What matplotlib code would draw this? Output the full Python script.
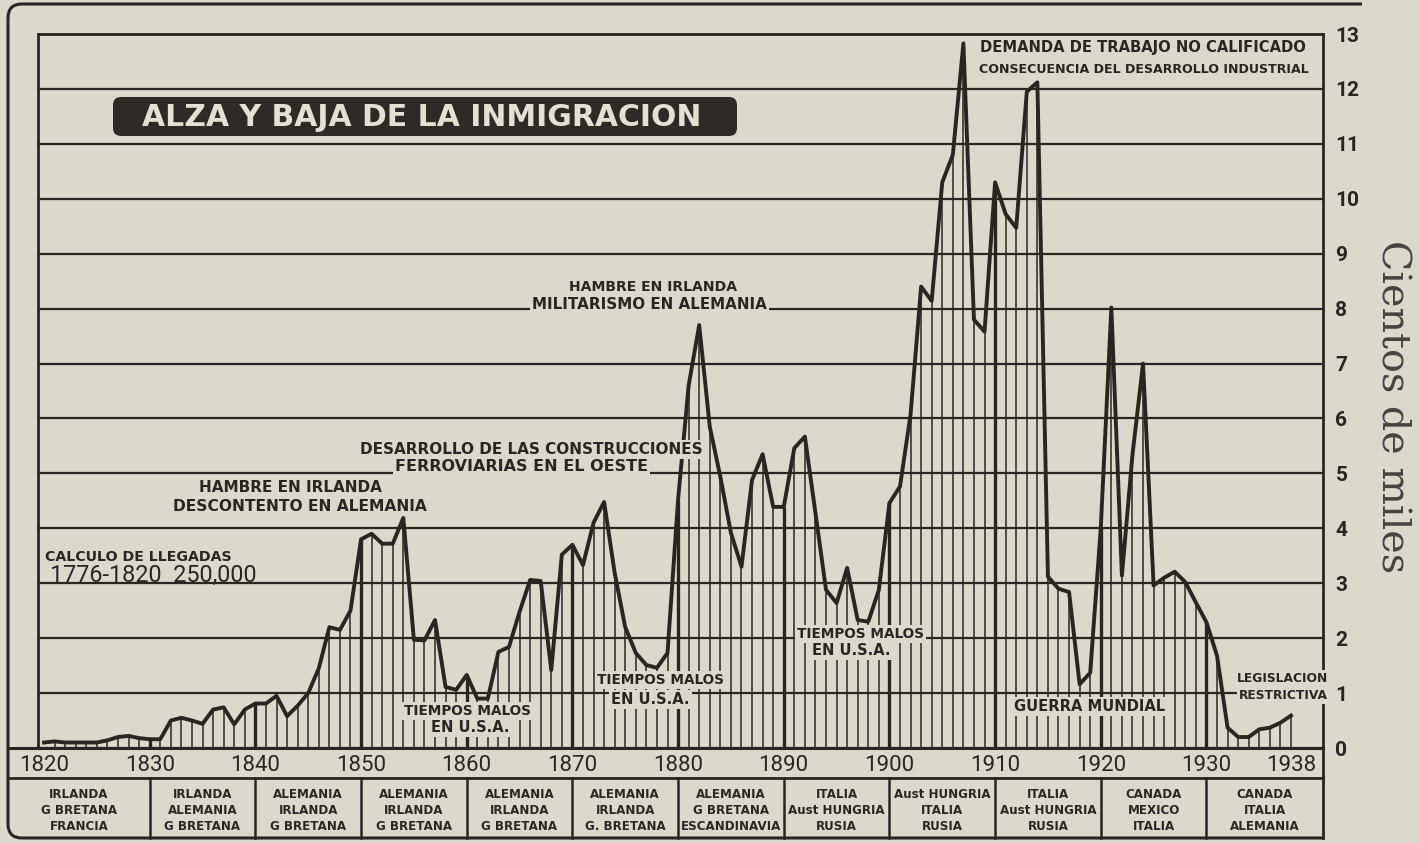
import matplotlib.pyplot as plt
import matplotlib.transforms as mtransforms
from matplotlib.patches import FancyBboxPatch, PathPatch
from matplotlib.path import Path

# inmigracion anual a EE.UU., en cientos de miles
anos = list(range(1820, 1939))
inmigrantes = [
    0.10, 0.12, 0.10, 0.10, 0.10, 0.10, 0.14, 0.20, 0.22, 0.18,   # 1820-29
    0.16, 0.16, 0.50, 0.55, 0.50, 0.44, 0.70, 0.74, 0.43, 0.70,   # 1830-39
    0.81, 0.81, 0.95, 0.58, 0.77, 1.00, 1.45, 2.20, 2.15, 2.50,   # 1840-49
    3.80, 3.90, 3.72, 3.72, 4.19, 1.97, 1.96, 2.33, 1.11, 1.06,   # 1850-59
    1.33, 0.90, 0.90, 1.75, 1.84, 2.48, 3.06, 3.04, 1.42, 3.52,   # 1860-69
    3.70, 3.33, 4.10, 4.48, 3.19, 2.20, 1.73, 1.51, 1.46, 1.73,   # 1870-79
    4.52, 6.60, 7.70, 5.85, 4.94, 3.92, 3.30, 4.88, 5.35, 4.39,   # 1880-89
    4.39, 5.46, 5.67, 4.28, 2.88, 2.64, 3.28, 2.33, 2.30, 2.88,   # 1890-99
    4.46, 4.76, 6.07, 8.40, 8.14, 10.30, 10.80, 12.83, 7.80, 7.58,  # 1900-09
    10.30, 9.72, 9.47, 11.95, 12.12, 3.12, 2.90, 2.84, 1.16, 1.37,  # 1910-19
    4.00, 8.02, 3.14, 5.34, 7.00, 2.96, 3.10, 3.21, 3.02, 2.65,   # 1920-29
    2.29, 1.68, 0.37, 0.20, 0.20, 0.34, 0.37, 0.46, 0.59,         # 1930-38
]

decadas = list(range(1830, 1940, 10))
ticks_anos = list(range(1820, 1940, 10)) + [1938]
etiquetas_anos = [str(a) for a in ticks_anos]

# principales paises de origen por decada
paises = [
    ('IRLANDA', 'G BRETANA', 'FRANCIA'),
    ('IRLANDA', 'ALEMANIA', 'G BRETANA'),
    ('ALEMANIA', 'IRLANDA', 'G BRETANA'),
    ('ALEMANIA', 'IRLANDA', 'G BRETANA'),
    ('ALEMANIA', 'IRLANDA', 'G BRETANA'),
    ('ALEMANIA', 'IRLANDA', 'G. BRETANA'),
    ('ALEMANIA', 'G BRETANA', 'ESCANDINAVIA'),
    ('ITALIA', 'Aust HUNGRIA', 'RUSIA'),
    ('Aust HUNGRIA', 'ITALIA', 'RUSIA'),
    ('ITALIA', 'Aust HUNGRIA', 'RUSIA'),
    ('CANADA', 'MEXICO', 'ITALIA'),
    ('CANADA', 'ITALIA', 'ALEMANIA'),
]

papel = '#dcd9cb'
tinta = '#2b2522'
letra = 'DejaVu Sans'
numeros = 'Roboto'

W, H = 1419, 843
L, R, T, B = 38, 1323, 34, 748
x0, x1 = 1819.43, 1941.03

fig = plt.figure(figsize=(W / 100, H / 100), dpi=100, facecolor=papel)
ax = fig.add_axes([L / W, (H - B) / H, (R - L) / W, (B - T) / H])
ax.set_facecolor(papel)
ax.set_xlim(x0, x1)
ax.set_ylim(0, 13)

# cuadricula horizontal
ax.set_yticks(range(14))
ax.yaxis.grid(True, color=tinta, lw=1.6)
ax.set_axisbelow(True)
ax.yaxis.tick_right()
ax.tick_params(axis='y', length=0, pad=9, labelsize=15, labelcolor=tinta)
for lab in ax.get_yticklabels():
    lab.set_fontfamily(numeros)
    lab.set_fontweight('bold')

ax.set_xticks(ticks_anos, etiquetas_anos)
ax.tick_params(axis='x', length=0, pad=5, labelsize=16, labelcolor=tinta)
for lab in ax.get_xticklabels():
    lab.set_fontfamily(numeros)

for s in ax.spines.values():
    s.set_color(tinta)
    s.set_linewidth(2)

# rayado vertical por ano, mas grueso en las decadas
finos = [(a, v) for a, v in zip(anos, inmigrantes) if a % 10 != 0]
gruesos = [(a, v) for a, v in zip(anos, inmigrantes) if a % 10 == 0 and a > 1820]
ax.vlines([a for a, _ in finos], 0, [v for _, v in finos], color=tinta, lw=1.1, zorder=2)
ax.vlines([a for a, _ in gruesos], 0, [v for _, v in gruesos], color=tinta, lw=2.4, zorder=2)
ax.plot(anos, inmigrantes, color=tinta, lw=2.8, solid_joinstyle='round', zorder=3)

fondo = dict(facecolor=papel, edgecolor='none', pad=1.5)


def nota(x, y, s, size=10.5, ha='center', va='center', **kw):
    ax.text(x, y, s, ha=ha, va=va, fontsize=size, family=letra, fontweight='bold',
            color=tinta, bbox=fondo, zorder=6, clip_on=False, **kw)


nota(1908.55, 12.76, 'DEMANDA DE TRABAJO NO CALIFICADO', size=10.6, ha='left')
nota(1908.45, 12.36, 'CONSECUENCIA DEL DESARROLLO INDUSTRIAL', size=9.1, ha='left')
nota(1877.6, 8.39, 'HAMBRE EN IRLANDA', size=10.1)
nota(1877.3, 7.99, 'MILITARISMO EN ALEMANIA', size=10.9, va='baseline')
nota(1866.1, 5.44, 'DESARROLLO DE LAS CONSTRUCCIONES', size=11)
nota(1865.2, 5.04, 'FERROVIARIAS EN EL OESTE', size=11.5, va='baseline')
nota(1843.3, 4.75, 'HAMBRE EN IRLANDA', size=11)
nota(1844.2, 4.39, 'DESCONTENTO EN ALEMANIA', size=11.2)
nota(1820.1, 3.48, 'CALCULO DE LLEGADAS', size=10.2, ha='left')
ax.text(1820.6, 3.15, '1776-1820  250,000', ha='left', va='center', fontsize=16.8,
        family=numeros, color=tinta, zorder=6)
nota(1860.1, 0.67, 'TIEMPOS MALOS', size=9.8)
nota(1860.3, 0.38, 'EN U.S.A.', size=10.5)
nota(1878.3, 1.24, 'TIEMPOS MALOS', size=9.8)
nota(1877.4, 0.89, 'EN U.S.A.', size=10.5)
nota(1897.3, 2.08, 'TIEMPOS MALOS', size=9.8)
nota(1896.4, 1.77, 'EN U.S.A.', size=10.5)
nota(1918.9, 0.76, 'GUERRA MUNDIAL', size=10.6)
nota(1941.5, 1.26, 'LEGISLACION', size=8.8, ha='right')
nota(1941.5, 0.95, 'RESTRICTIVA', size=8.8, ha='right')

# capa de adornos en pixeles: marco, filas inferiores, titulo
deco = fig.add_axes([0, 0, 1, 1], zorder=3)
deco.set_xlim(0, W)
deco.set_ylim(H, 0)
deco.axis('off')
deco.patch.set_visible(False)

marco = Path([(1362, 4), (22, 4), (8, 4), (8, 18), (8, 824), (8, 838), (22, 838), (R, 838)],
             [Path.MOVETO, Path.LINETO, Path.CURVE3, Path.CURVE3, Path.LINETO,
              Path.CURVE3, Path.CURVE3, Path.LINETO])
deco.add_patch(PathPatch(marco, fill=False, lw=2.2, ec=tinta))
deco.plot([8, R], [B, B], color=tinta, lw=2.2)
deco.plot([8, R], [778, 778], color=tinta, lw=2)
deco.plot([R, R], [B, 838], color=tinta, lw=2)

mezcla = mtransforms.blended_transform_factory(ax.transData, deco.transData)
for d in decadas:
    deco.plot([d, d], [778, 838], color=tinta, lw=1.8, transform=mezcla)

bordes = [ax.transData.inverted().transform(fig.transFigure.transform((8 / W, 0)))[0]] \
    + decadas + [x1]
for i, trio in enumerate(paises):
    xc = (bordes[i] + bordes[i + 1]) / 2
    for j, s in enumerate(trio):
        deco.text(xc, 794 + j * 16.5, s, ha='center', va='center', fontsize=8.6,
                  family=letra, fontweight='bold', color=tinta, transform=mezcla)

deco.add_patch(FancyBboxPatch((113, 97), 624, 39, boxstyle='round,pad=0,rounding_size=8',
                              fc='#2e2a27', ec='none'))
deco.text(422, 117, 'ALZA Y BAJA DE LA INMIGRACION', ha='center', va='center',
          fontsize=21.5, family='DejaVu Sans', fontweight='bold', color='#e4e0d4')

deco.text(1392, 407, 'Cientos de miles', rotation=270, ha='center', va='center',
          fontsize=28.5, family='DejaVu Serif', color='#47423d')

fig.savefig('out.png', dpi=100, facecolor=papel)
